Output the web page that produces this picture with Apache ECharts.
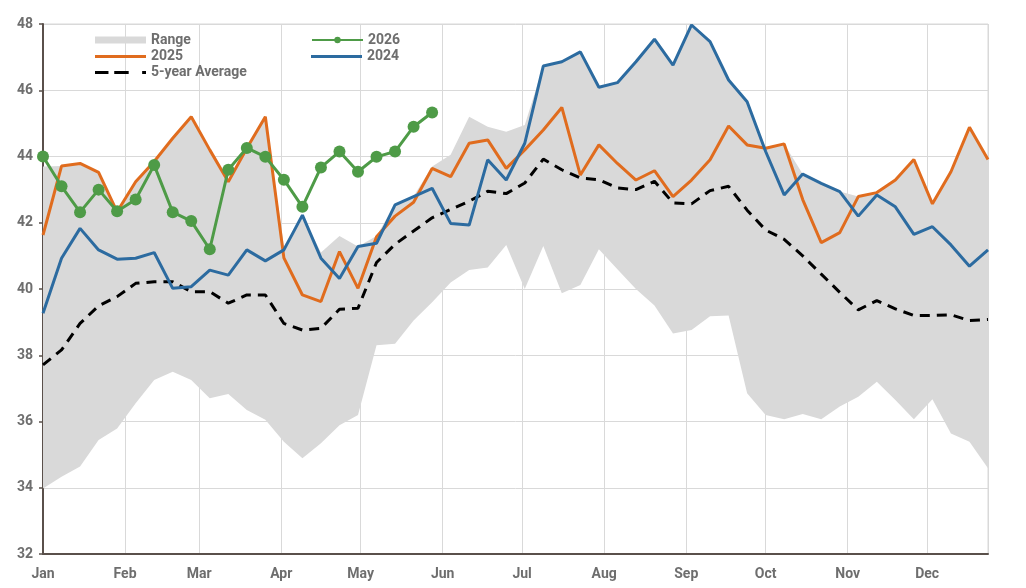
<!DOCTYPE html>
<html>
<head>
<meta charset="utf-8">
<script src="https://cdn.jsdelivr.net/npm/echarts@6/dist/echarts.min.js"></script>
<style>
html,body{margin:0;padding:0;background:#fff;}
#chart{width:1026px;height:588px;}
</style>
</head>
<body>
<div id="chart"></div>
<script>
// Weekly dates (x categories)
var weeks = ['2025-01-01','2025-01-08','2025-01-15','2025-01-22','2025-01-29','2025-02-05','2025-02-12','2025-02-19','2025-02-26','2025-03-05','2025-03-12','2025-03-19','2025-03-26','2025-04-02','2025-04-09','2025-04-16','2025-04-23','2025-04-30','2025-05-07','2025-05-14','2025-05-21','2025-05-28','2025-06-04','2025-06-11','2025-06-18','2025-06-25','2025-07-02','2025-07-09','2025-07-16','2025-07-23','2025-07-30','2025-08-06','2025-08-13','2025-08-20','2025-08-27','2025-09-03','2025-09-10','2025-09-17','2025-09-24','2025-10-01','2025-10-08','2025-10-15','2025-10-22','2025-10-29','2025-11-05','2025-11-12','2025-11-19','2025-11-26','2025-12-03','2025-12-10','2025-12-17','2025-12-24'];

var rangeLow = [33.98,34.33,34.64,35.44,35.79,36.55,37.25,37.5,37.25,36.7,36.83,36.35,36.05,35.39,34.89,35.34,35.89,36.2,38.3,38.35,39.05,39.6,40.2,40.57,40.65,41.33,40.0,41.3,39.87,40.12,41.2,40.6,40.0,39.5,38.66,38.76,39.18,39.2,36.85,36.2,36.07,36.23,36.07,36.45,36.75,37.2,36.65,36.07,36.67,35.64,35.39,34.59];
var rangeHigh = [43.7,43.71,43.79,43.52,42.33,43.24,43.85,44.55,45.2,44.2,43.24,44.25,45.2,41.3,42.23,41.1,41.6,41.28,41.6,42.55,42.8,43.7,44.05,45.2,44.9,44.75,44.95,46.73,46.86,47.16,46.09,46.23,46.86,47.54,46.76,47.97,47.47,46.31,45.65,44.25,44.38,43.47,43.19,42.94,42.79,42.91,43.29,43.91,42.57,43.54,44.88,43.91];
var y2026 = [44.0,43.1,42.32,43.0,42.35,42.7,43.74,42.32,42.05,41.2,43.6,44.26,43.99,43.3,42.48,43.67,44.15,43.54,43.99,44.15,44.9,45.33];
var y2025 = [41.63,43.71,43.79,43.52,42.33,43.24,43.85,44.55,45.2,44.2,43.24,44.25,45.2,40.94,39.82,39.62,41.13,40.02,41.58,42.2,42.62,43.64,43.39,44.4,44.5,43.64,44.2,44.8,45.48,43.44,44.35,43.79,43.29,43.57,42.79,43.29,43.9,44.92,44.35,44.25,44.38,42.7,41.4,41.7,42.79,42.91,43.29,43.91,42.57,43.54,44.88,43.91];
var y2024 = [39.27,40.93,41.83,41.18,40.9,40.93,41.1,40.02,40.07,40.57,40.42,41.18,40.85,41.18,42.23,40.93,40.32,41.28,41.38,42.54,42.79,43.04,41.98,41.93,43.9,43.29,44.4,46.73,46.86,47.16,46.09,46.23,46.86,47.54,46.76,47.97,47.47,46.31,45.65,44.15,42.84,43.47,43.19,42.94,42.2,42.84,42.48,41.65,41.88,41.33,40.69,41.18];
var avg5 = [37.71,38.16,38.96,39.49,39.77,40.17,40.22,40.22,39.92,39.92,39.57,39.82,39.82,38.96,38.76,38.81,39.39,39.42,40.8,41.35,41.75,42.15,42.4,42.65,42.95,42.88,43.2,43.92,43.6,43.35,43.3,43.05,43.0,43.25,42.6,42.57,42.97,43.1,42.38,41.78,41.5,41.0,40.45,39.9,39.37,39.65,39.4,39.2,39.2,39.22,39.05,39.08];
var yTicks = {min: 32, max: 48, step: 2};

function pairs(vals){ return vals.map(function(v,i){ return [weeks[i], v]; }); }
var rangeSpan = rangeHigh.map(function(v,i){ return +(v - rangeLow[i]).toFixed(3); });

var C = {orange:'#E06C1E', blue:'#2C6BA0', green:'#4E9B47', gray:'#D9D9D9', text:'#6E6E6E', axis:'#5A504B', grid:'#D9D9D9'};
var FONT = 'Roboto, "Liberation Sans", sans-serif';
var legText = {color:C.text, fontSize:14, fontWeight:'bold', fontFamily:FONT};
var dashIcon = 'path://M0,0h14v3h-14z M20,0h15v3h-15z M49,0h4v3h-4z';

function leg(name, left, top, h, extra){
  var o = {data:[name], left:left, top:top, orient:'vertical', padding:0, itemWidth:51, itemHeight:h,
    itemGap:0, selectedMode:false, textStyle:legText};
  for (var k in extra) o[k] = extra[k];
  return o;
}

var chart = echarts.init(document.getElementById('chart'), null, {renderer:'canvas'});
chart.setOption({
  animation:false,
  backgroundColor:'#fff',
  grid:{left:43, right:38, top:24, bottom:34, show:true, borderColor:C.grid, borderWidth:1, backgroundColor:'transparent'},
  legend:[
    leg('Range', 95, 33, 7, {icon:'rect'}),
    leg('2025', 95, 49.5, 3, {icon:'rect'}),
    leg('5-year Average', 95, 65.5, 3, {icon:dashIcon, itemStyle:{color:'#000'}}),
    leg('2026', 311, 33, 8, {}),
    leg('2024', 311, 49.5, 3, {icon:'rect'})
  ],
  xAxis:{
    type:'time', min:weeks[0], max:weeks[weeks.length-1], splitNumber:12,
    minInterval:28*86400000,
    axisLine:{show:true, lineStyle:{color:C.axis, width:2}},
    axisTick:{show:false},
    axisLabel:{formatter:'{MMM}', color:C.text, fontSize:14, fontWeight:'bold', fontFamily:FONT, margin:13, hideOverlap:false, showMinLabel:true},
    splitLine:{show:true, lineStyle:{color:C.grid, width:1}}
  },
  yAxis:{
    type:'value', min:yTicks.min, max:yTicks.max, interval:yTicks.step,
    axisLine:{show:true, lineStyle:{color:C.axis, width:2}},
    axisTick:{show:true, length:4, lineStyle:{color:C.axis, width:1.5}},
    axisLabel:{color:C.text, fontSize:14, fontWeight:'bold', fontFamily:FONT, margin:10},
    splitLine:{show:true, lineStyle:{color:C.grid, width:1}}
  },
  series:[
    {name:'rangeBase', type:'line', stack:'range', data:pairs(rangeLow), symbol:'none', lineStyle:{width:0, opacity:0}, silent:true, z:1},
    {name:'Range', type:'line', stack:'range', data:pairs(rangeSpan), symbol:'none', lineStyle:{width:0, opacity:0},
      itemStyle:{color:C.gray}, areaStyle:{color:C.gray, opacity:1}, z:1},
    {name:'5-year Average', type:'line', data:pairs(avg5), symbol:'none', itemStyle:{color:'#000'},
      lineStyle:{color:'#000', width:3, type:[10,7]}, z:3},
    {name:'2025', type:'line', data:pairs(y2025), symbol:'none', itemStyle:{color:C.orange}, lineStyle:{color:C.orange, width:3}, z:4},
    {name:'2024', type:'line', data:pairs(y2024), symbol:'none', itemStyle:{color:C.blue}, lineStyle:{color:C.blue, width:3}, z:5},
    {name:'2026', type:'line', data:pairs(y2026), symbol:'circle', symbolSize:12, showSymbol:true, itemStyle:{color:C.green}, lineStyle:{color:C.green, width:3}, z:6}
  ]
});
</script>
</body>
</html>
